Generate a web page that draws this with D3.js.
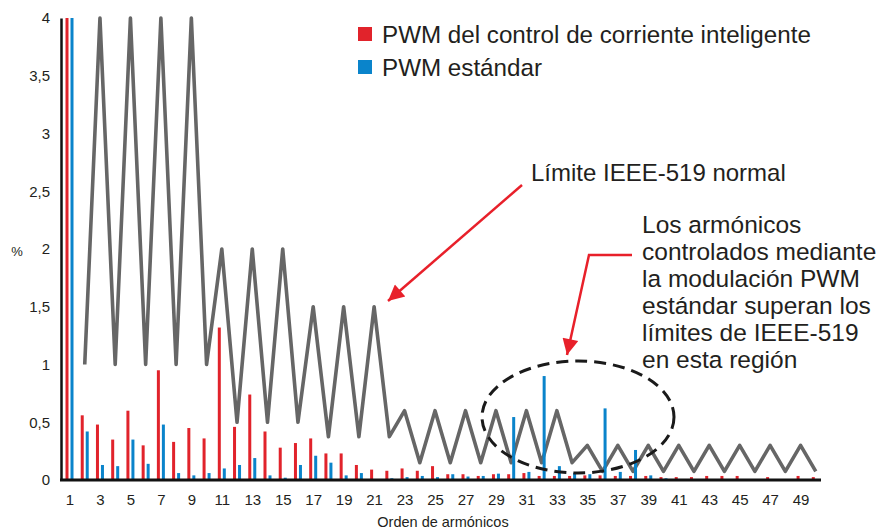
<!DOCTYPE html>
<html>
<head>
<meta charset="utf-8">
<script src="https://cdn.jsdelivr.net/npm/d3@7"></script>
<style>
body { margin: 0; background: #fff; }
text { font-family: "Liberation Sans", Arial, sans-serif; fill: #231f20; }
</style>
</head>
<body>
<svg id="chart" width="886" height="530"></svg>
<script>
// harmonic orders on the x axis
var harmonics = [1,2,3,4,5,6,7,8,9,10,11,12,13,14,15,16,17,18,19,20,
                 21,22,23,24,25,26,27,28,29,30,31,32,33,34,35,36,37,38,39,40,
                 41,42,43,44,45,46,47,48,49,50];
// % values (harmonic 1 is clipped at the top)
var smartPwm = [4,0.56,0.48,0.35,0.60,0.30,0.95,0.33,0.45,0.36,
                1.32,0.46,0.74,0.42,0.28,0.32,0.36,0.23,0.23,0.13,
                0.09,0.08,0.10,0.08,0.12,0.05,0.05,0.035,0.05,0.05,
                0.06,0.035,0.035,0.035,0.04,0.04,0.035,0.035,0.035,0.025,
                0.025,0.025,0.035,0.035,0.035,0,0.025,0,0.035,0.025];
var standardPwm = [4,0.42,0.13,0.12,0.35,0.14,0.48,0.06,0.04,0.06,
                   0.10,0.13,0.19,0.04,0.02,0.13,0.21,0.15,0.04,0.06,
                   0,0.015,0.025,0.035,0.025,0.05,0.03,0.035,0.055,0.545,
                   0.07,0.90,0.12,0.06,0.05,0.62,0.07,0.26,0.04,0.015,
                   0,0,0,0,0,0,0,0,0,0];
// IEEE-519 limit, from harmonic 2 to 50
var limitOrders = harmonics.slice(1);
var limitValues = [1,4,1,4,1,4,1,4,1,2,0.5,2,0.5,2,0.5,1.5,0.375,1.5,0.375,1.5,
                   0.375,0.6,0.15,0.6,0.15,0.6,0.15,0.6,0.15,0.6,0.15,0.6,0.15,
                   0.3,0.075,0.3,0.075,0.3,0.075,0.3,0.075,0.3,0.075,0.3,0.075,
                   0.3,0.075,0.3,0.075];
var yTicks = [0,0.5,1,1.5,2,2.5,3,3.5,4];
var xTicks = [1,3,5,7,9,11,13,15,17,19,21,23,25,27,29,31,33,35,37,39,41,43,45,47,49];
var seriesNames = ["PWM del control de corriente inteligente", "PWM estándar"];
var noteLines = ["Los armónicos", "controlados mediante", "la modulación PWM",
                 "estándar superan los", "límites de IEEE-519", "en esta región"];

var RED = "#e1232b", BLUE = "#0a84cb", GRAY = "#666666";

var svg = d3.select("#chart");
var x = d3.scalePoint().domain(harmonics).range([69.5, 815.8]);
var y = d3.scaleLinear().domain([0, 4]).range([480, 18]);
var loc = d3.formatLocale({decimal: ",", thousands: ".", grouping: [3], currency: ["", "€"]});
var fmt = loc.format(".1~f");

// limit line
var line = d3.line().x(function(d, i) { return x(limitOrders[i]); })
                    .y(function(d) { return y(d); });
svg.append("path")
    .datum(limitValues)
    .attr("d", line)
    .attr("fill", "none")
    .attr("stroke", GRAY)
    .attr("stroke-width", 3.6)
    .attr("stroke-linejoin", "round");

// bars
var bw = 3;
svg.append("g").selectAll("rect")
    .data(harmonics)
    .enter().append("rect")
        .attr("x", function(d) { return x(d) - 2.5 - bw / 2; })
        .attr("y", function(d, i) { return y(smartPwm[i]); })
        .attr("width", bw)
        .attr("height", function(d, i) { return y(0) - y(smartPwm[i]); })
        .attr("fill", RED);
svg.append("g").selectAll("rect")
    .data(harmonics)
    .enter().append("rect")
        .attr("x", function(d) { return x(d) + 2.5 - bw / 2; })
        .attr("y", function(d, i) { return y(standardPwm[i]); })
        .attr("width", bw)
        .attr("height", function(d, i) { return y(0) - y(standardPwm[i]); })
        .attr("fill", BLUE);

// axes
var yAxis = svg.append("g").attr("transform", "translate(61,0)")
    .call(d3.axisLeft(y).tickValues(yTicks).tickSize(0).tickPadding(11).tickFormat(fmt));
yAxis.select(".domain").attr("stroke", "#111").attr("stroke-width", 2.5);
yAxis.selectAll("text").style("font-size", "15px").style("font-family", "Liberation Sans, Arial, sans-serif").attr("fill", "#231f20");

var xAxis = svg.append("g").attr("transform", "translate(0,480)")
    .call(d3.axisBottom(x).tickValues(xTicks).tickSize(0).tickPadding(14));
xAxis.select(".domain").attr("d", "M60,0H821").attr("stroke", "#111").attr("stroke-width", 3);
xAxis.selectAll("text").style("font-size", "15px").style("font-family", "Liberation Sans, Arial, sans-serif").attr("fill", "#231f20");

svg.append("text").attr("x", 17).attr("y", 256).attr("text-anchor", "middle")
    .style("font-size", "13px").text("%");
svg.append("text").attr("x", 443).attr("y", 527).attr("text-anchor", "middle")
    .style("font-size", "14.5px").text("Orden de armónicos");

// legend
var legend = svg.append("g");
[RED, BLUE].forEach(function(c, i) {
    legend.append("rect").attr("x", 358).attr("y", 27 + i * 33).attr("width", 14).attr("height", 14).attr("fill", c);
    legend.append("text").attr("x", 382).attr("y", 43 + i * 33).style("font-size", "24.2px").text(seriesNames[i]);
});

// annotations
var defs = svg.append("defs");
defs.append("marker").attr("id", "head")
    .attr("viewBox", "0 0 10 10").attr("refX", 10).attr("refY", 5)
    .attr("markerUnits", "userSpaceOnUse").attr("markerWidth", 20).attr("markerHeight", 16)
    .attr("orient", "auto")
    .append("path").attr("d", "M0,0L10,5L0,10Z").attr("fill", "#e8202a");

svg.append("text").attr("x", 531).attr("y", 181).style("font-size", "24px").text("Límite IEEE-519 normal");
svg.append("path").attr("d", "M522,185L388,301")
    .attr("fill", "none").attr("stroke", "#e8202a").attr("stroke-width", 2.5).attr("marker-end", "url(#head)");

svg.append("text").selectAll("tspan")
    .data(noteLines).enter().append("tspan")
        .attr("x", 642).attr("y", function(d, i) { return 233 + i * 27; })
        .style("font-size", "24.5px").text(function(d) { return d; });
svg.append("path").attr("d", "M632,255L589,255L567,355")
    .attr("fill", "none").attr("stroke", "#e8202a").attr("stroke-width", 2.5).attr("marker-end", "url(#head)");

svg.append("ellipse").attr("cx", 578).attr("cy", 417).attr("rx", 96).attr("ry", 56)
    .attr("fill", "none").attr("stroke", "#1a1a1a").attr("stroke-width", 3).attr("stroke-dasharray", "12 7");
</script>
</body>
</html>
